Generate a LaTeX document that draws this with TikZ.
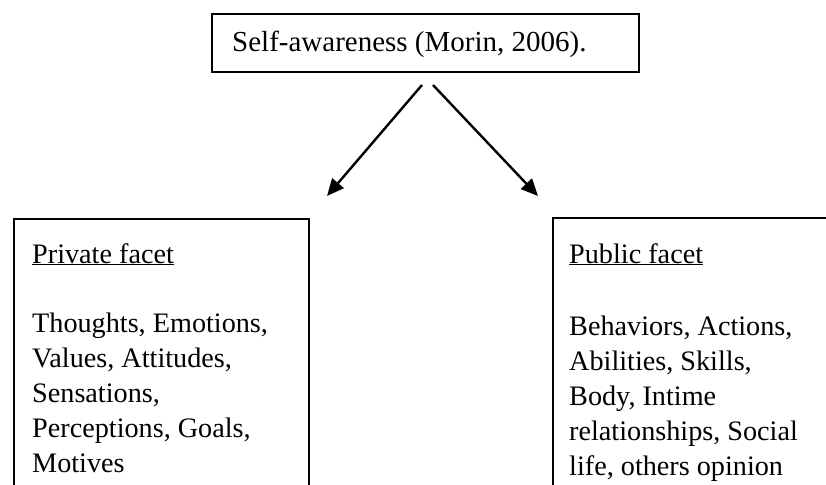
\documentclass[tikz,border=0pt]{standalone}
\usepackage{fontspec}
\setmainfont{Liberation Serif}
\usetikzlibrary{arrows.meta}
\begin{document}
\begin{tikzpicture}[x=1pt,y=-1pt,
  box/.style={draw, line width=2pt, inner sep=0pt, anchor=north west},
  txt/.style={inner sep=0pt, anchor=base west, font=\fontsize{28.2}{35}\selectfont},
  ttl/.style={inner sep=0pt, anchor=base west, font=\fontsize{29}{35}\selectfont},
  arr/.style={line width=2.4pt, -{Triangle[length=17pt,width=15pt]}}]
\useasboundingbox (0,0) rectangle (826,484);
\clip (0,0) rectangle (826,484);
% boxes
\node[box, minimum width=427pt, minimum height=58pt] (top) at (211,13) {};
\node[box, minimum width=295pt, minimum height=300pt] (left) at (13,218) {};
\node[box, minimum width=320pt, minimum height=300pt] (right) at (552,217) {};
% title
\node[ttl] (title) at (232,52) {Self-awareness (Morin, 2006).};
% arrows
\coordinate (ls) at (422,85);
\coordinate (le) at (327,196);
\coordinate (rs) at (433,85);
\coordinate (re) at (538,196);
\draw[arr] (ls) -- (le);
\draw[arr] (rs) -- (re);
% left text
\node[txt] (lh) at (32,263) {\underline{Private facet}};
\node[txt] (l1) at (32,332) {Thoughts, Emotions,};
\node[txt] (l2) at (32,367) {Values, Attitudes,};
\node[txt] (l3) at (32,402) {Sensations,};
\node[txt] (l4) at (32,437) {Perceptions, Goals,};
\node[txt] (l5) at (32,472) {Motives};
% right text
\node[txt] (rh) at (569,263) {\underline{Public facet}};
\node[txt] (r1) at (569,335) {Behaviors, Actions,};
\node[txt] (r2) at (569,370) {Abilities, Skills,};
\node[txt] (r3) at (569,405) {Body, Intime};
\node[txt] (r4) at (569,440) {relationships, Social};
\node[txt] (r5) at (569,475) {life, others opinion};
\end{tikzpicture}
\end{document}
